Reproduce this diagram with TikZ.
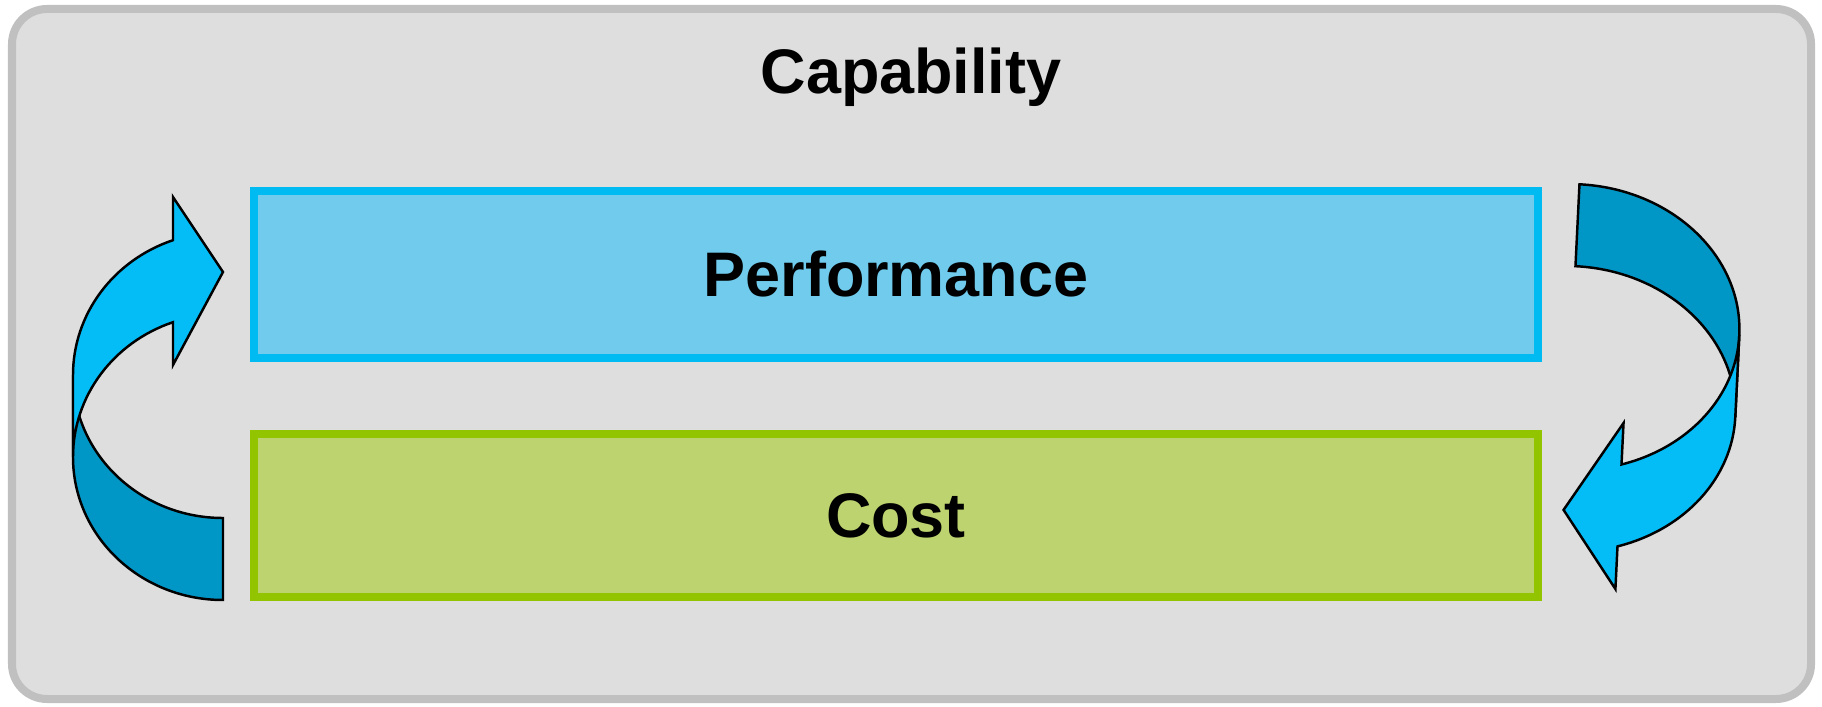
\documentclass[tikz,border=0pt]{standalone}
\usepackage{fontspec}
\setmainfont{Liberation Sans}

\definecolor{capfill}{HTML}{DEDEDE}
\definecolor{capline}{HTML}{C0C0C0}
\definecolor{perffill}{HTML}{70CBED}
\definecolor{perfline}{HTML}{00BBF2}
\definecolor{costfill}{HTML}{BDD36F}
\definecolor{costline}{HTML}{92C400}
\definecolor{arrowlight}{HTML}{04BDF6}
\definecolor{arrowdark}{HTML}{0097C7}

\begin{document}
\begin{tikzpicture}[x=0.01cm, y=0.01cm,
  label/.style={font=\fontsize{17.9}{20}\selectfont\bfseries},
  box/.style={label, draw, line width=0.08cm, minimum width=12.84cm, inner sep=0pt},
  back/.style={draw=black, line width=0.7pt, fill=arrowdark},
  front/.style={draw=black, line width=0.7pt, fill=arrowlight}]
\useasboundingbox (0,0) rectangle (1822,-707);

% frame
\draw[line width=0.08cm, draw=capline, fill=capfill, rounded corners=0.35cm] (12,-9) rectangle (1811,-699);
\node[label, anchor=base] (cap) at (911,-94) {Capability};

% the two bars
\node[box, draw=perfline, fill=perffill, minimum height=1.667cm] (perf) at (896,-274.3) {Performance};
\node[box, draw=costline, fill=costfill, minimum height=1.63cm] (cost) at (896,-515.5) {Cost};

% left arrow, going up
\draw[back] (73,-375) -- (73,-457) arc[start angle=180, end angle=270, x radius=150, y radius=143]
  -- (223,-518) arc[start angle=270, end angle=180, x radius=150, y radius=143] -- cycle;
\draw[front] (73,-375) arc[start angle=180, end angle=109.47, x radius=150, y radius=143]
  -- (173,-197) -- (223,-272) -- (173,-365) -- (173,-322.2)
  arc[start angle=109.47, end angle=180, x radius=150, y radius=143] -- cycle;

% right arrow, going down (a bit tilted)
\begin{scope}[rotate around={-2.8:(1650,-400)}]
\draw[back] (1736,-331) -- (1736,-413) arc[start angle=0, end angle=90, x radius=167, y radius=143]
  -- (1569,-188) arc[start angle=90, end angle=0, x radius=167, y radius=143] -- cycle;
\draw[front] (1736,-413) arc[start angle=0, end angle=-70.53, x radius=167, y radius=143]
  -- (1624.67,-590.5) -- (1569,-514) -- (1624.67,-424.3) -- (1624.67,-465.8)
  arc[start angle=-70.53, end angle=0, x radius=167, y radius=143] -- cycle;
\end{scope}
\end{tikzpicture}
\end{document}
